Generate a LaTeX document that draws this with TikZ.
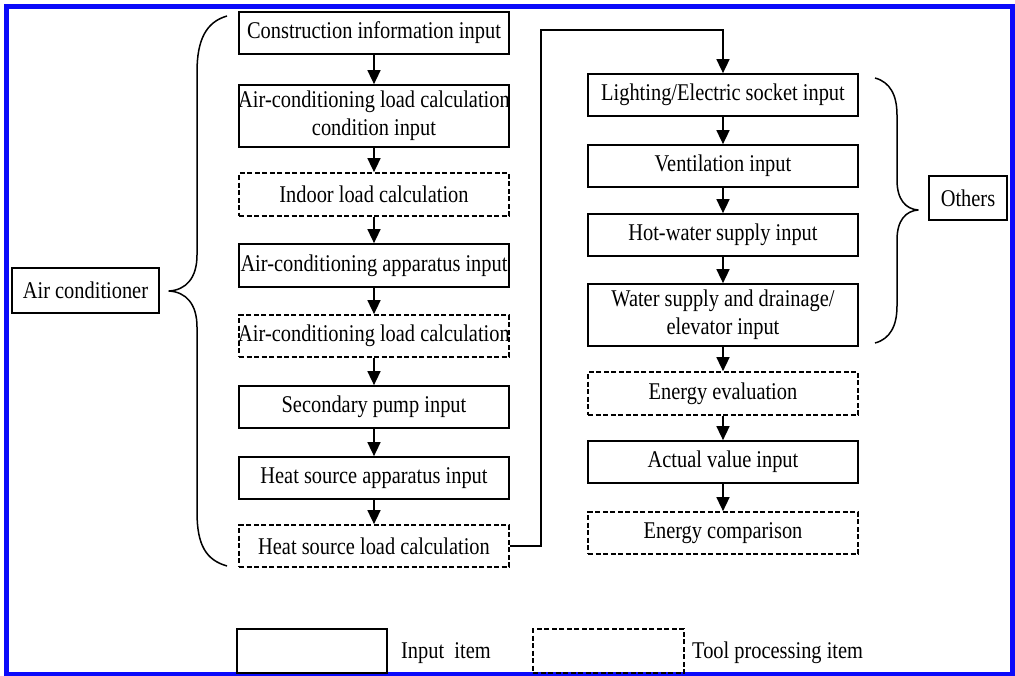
\documentclass[tikz,border=0pt]{standalone}
\usepackage{fontspec}
\setmainfont{Liberation Serif}[FakeStretch=0.85]
\usetikzlibrary{arrows.meta}
\definecolor{frameblue}{RGB}{10,10,250}
% a line of text that may run past the edges of its box
\newcommand{\wideline}[1]{\makebox[260pt]{#1}}
\tikzset{
  inbox/.style={draw, line width=1.7pt, minimum width=270pt, inner sep=0pt,
    align=center, font=\fontsize{24}{28}\selectfont},
  toolbox/.style={inbox, dash pattern=on 5pt off 2.5pt},
  tag/.style={draw, line width=1.7pt, inner sep=0pt, font=\fontsize{24}{28}\selectfont},
  flow/.style={line width=1.5pt, -{Triangle[length=14pt,width=13pt]}},
  brace/.style={line width=1.5pt, line join=round},
  legendtext/.style={anchor=west, inner sep=0pt, font=\fontsize{24}{28}\selectfont}
}
\begin{document}
\begin{tikzpicture}[x=1pt,y=-1pt]
\useasboundingbox (0,0) rectangle (1015,675);
\fill[white] (0,0) rectangle (1015,675);
% outer frame
\draw[draw=frameblue, line width=5pt] (6.5,6) rectangle (1012.5,674.5);

% air-conditioner chain
\node[inbox, minimum height=42pt] (l1) at (374,33) {Construction information input};
\node[inbox, minimum height=62pt] (l2) at (374,116) {\wideline{Air-conditioning load calculation}\\condition input};
\node[toolbox, minimum height=43pt] (l3) at (374,194.5) {Indoor load calculation};
\node[inbox, minimum height=43pt] (l4) at (374,265.5) {\wideline{Air-conditioning apparatus input}};
\node[toolbox, minimum height=42pt] (l5) at (374,336) {\wideline{Air-conditioning load calculation}};
\node[inbox, minimum height=42pt] (l6) at (374,407) {Secondary pump input};
\node[inbox, minimum height=42pt] (l7) at (374,478) {Heat source apparatus input};
\node[toolbox, minimum height=42pt] (l8) at (374,546) {Heat source load calculation};

% other equipment chain
\node[inbox, minimum height=42pt] (r1) at (723,95) {Lighting/Electric socket input};
\node[inbox, minimum height=42pt] (r2) at (723,166) {Ventilation input};
\node[inbox, minimum height=42pt] (r3) at (723,235) {Hot-water supply input};
\node[inbox, minimum height=62pt] (r4) at (723,315) {Water supply and drainage/\\elevator input};
\node[toolbox, minimum height=43pt] (r5) at (723,393.5) {Energy evaluation};
\node[inbox, minimum height=42pt] (r6) at (723,462) {Actual value input};
\node[toolbox, minimum height=42pt] (r7) at (723,533) {Energy comparison};

% group labels
\node[tag, minimum width=147pt, minimum height=45pt] (ac) at (85.5,290.5) {Air conditioner};
\node[tag, minimum width=78pt, minimum height=44pt] (ot) at (968,198) {Others};

% arrows
\foreach \a/\b in {l1/l2,l2/l3,l3/l4,l4/l5,l5/l6,l6/l7,l7/l8,r1/r2,r2/r3,r3/r4,r4/r5,r5/r6,r6/r7}
  \draw[flow] (\a.south) -- (\b.north);
\coordinate (jx) at (541,546);
\coordinate (jt) at (541,30);
\draw[flow] (l8.east) -- (jx) -- (jt) -- (jt -| r1.north) -- (r1.north);

% braces
\draw[brace] (227,16) .. controls (206,22) and (197,40) .. (197,72) -- (197,255)
  .. controls (197,278) and (186,290) .. (169,291)
  .. controls (186,292) and (197,304) .. (197,327) -- (197,512)
  .. controls (197,545) and (206,560) .. (227,566);
\draw[brace] (875,78) .. controls (890,82) and (897,95) .. (897,115) -- (897,180)
  .. controls (897,200) and (906,209) .. (918,210)
  .. controls (906,211) and (897,220) .. (897,240) -- (897,306)
  .. controls (897,326) and (890,339) .. (875,343);

% legend
\node[inbox, minimum width=150pt, minimum height=44pt] (lgin) at (312,651) {};
\node[legendtext] (lgint) at (401,653) {Input\ \ item};
\node[toolbox, minimum width=151pt, minimum height=44pt] (lgtool) at (608.5,651) {};
\node[legendtext] (lgtoolt) at (692,653) {Tool processing item};
\end{tikzpicture}
\end{document}
